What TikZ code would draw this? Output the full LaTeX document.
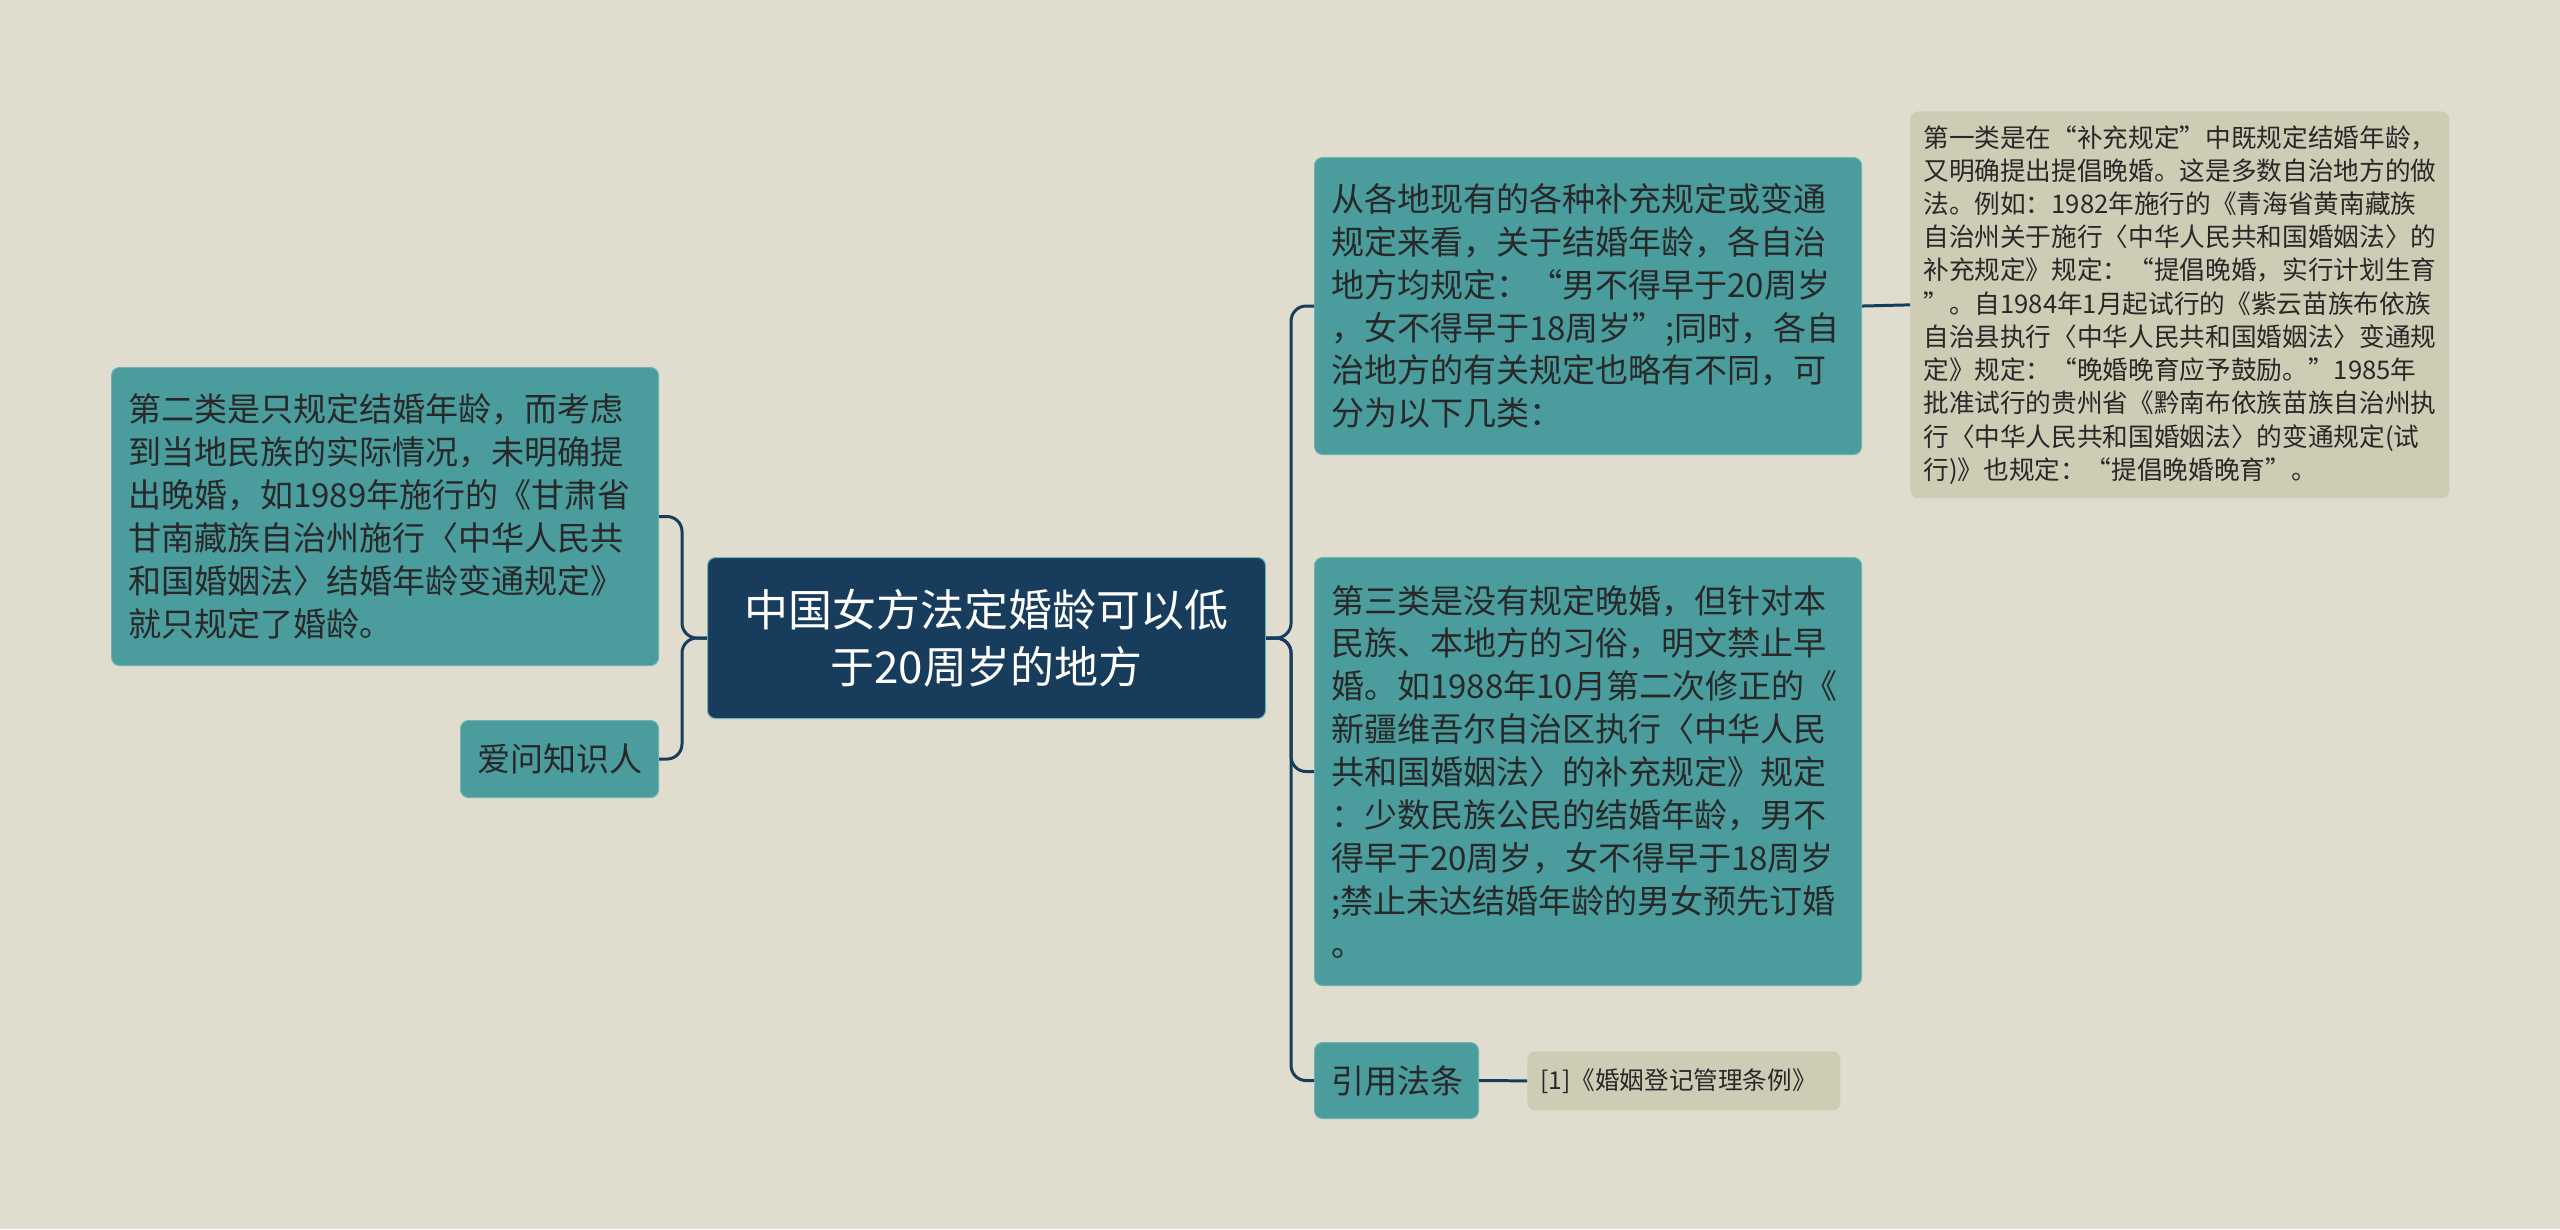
\documentclass[tikz,border=0pt]{standalone}
\usepackage{fontspec}
\setmainfont{Noto Sans CJK SC}

\definecolor{paper}{RGB}{224,221,207}
\definecolor{rootblue}{RGB}{23,60,92}
\definecolor{tealbox}{RGB}{75,156,157}
\definecolor{tealedge}{RGB}{110,178,178}
\definecolor{notebox}{RGB}{207,204,182}
\definecolor{ink}{RGB}{40,40,40}

\tikzset{
  rootbox/.style={fill=rootblue, draw=tealedge, line width=0.6pt, text=white,
    rounded corners=0.16cm, anchor=north west, align=center,
    inner xsep=0.3cm, inner ysep=0pt,
    font=\fontsize{25pt}{32.4pt}\selectfont},
  topic/.style={fill=tealbox, draw=tealedge, line width=0.6pt, text=ink,
    rounded corners=0.16cm, anchor=north west, align=left,
    inner xsep=0.33cm, inner ysep=0pt,
    font=\fontsize{18.8pt}{24.4pt}\selectfont},
  note/.style={fill=notebox, text=ink, rounded corners=0.16cm,
    anchor=north west, align=left, inner xsep=0.26cm, inner ysep=0pt,
    font=\fontsize{14.6pt}{18.9pt}\selectfont},
  link/.style={draw=rootblue, line width=1.7pt, rounded corners=0.3cm}
}

\begin{document}
\begin{tikzpicture}
    \fill[paper] (0,0) rectangle (51.2,-24.58);

    \path
    (14.14,-11.14) node[rootbox, text width=10.56cm, minimum height=3.22cm] (0)
      {中国女方法定婚龄可以低\\于20周岁的地方}
    (26.28,-3.14) node[topic, text width=10.28cm, minimum height=5.94cm] (1)
      {从各地现有的各种补充规定或变通\\
       规定来看，关于结婚年龄，各自治\\
       地方均规定：“男不得早于20周岁\\
       ，女不得早于18周岁”;同时，各自\\
       治地方的有关规定也略有不同，可\\
       分为以下几类：}
    (26.28,-11.14) node[topic, text width=10.28cm, minimum height=8.56cm] (2)
      {第三类是没有规定晚婚，但针对本\\
       民族、本地方的习俗，明文禁止早\\
       婚。如1988年10月第二次修正的《\\
       新疆维吾尔自治区执行〈中华人民\\
       共和国婚姻法〉的补充规定》规定\\
       ：少数民族公民的结婚年龄，男不\\
       得早于20周岁，女不得早于18周岁\\
       ;禁止未达结婚年龄的男女预先订婚\\
       。}
    (26.28,-20.84) node[topic, text width=2.62cm, minimum height=1.52cm] (3)
      {引用法条}
    (2.22,-7.34) node[topic, text width=10.28cm, minimum height=5.96cm] (4)
      {第二类是只规定结婚年龄，而考虑\\
       到当地民族的实际情况，未明确提\\
       出晚婚，如1989年施行的《甘肃省\\
       甘南藏族自治州施行〈中华人民共\\
       和国婚姻法〉结婚年龄变通规定》\\
       就只规定了婚龄。}
    (9.20,-14.40) node[topic, text width=3.30cm, minimum height=1.54cm] (5)
      {爱问知识人}
    (38.2,-2.22) node[note, text width=10.26cm, minimum height=7.74cm] (6)
      {第一类是在“补充规定”中既规定结婚年龄，\\
       又明确提出提倡晚婚。这是多数自治地方的做\\
       法。例如：1982年施行的《青海省黄南藏族\\
       自治州关于施行〈中华人民共和国婚姻法〉的\\
       补充规定》规定：“提倡晚婚，实行计划生育\\
       ”。自1984年1月起试行的《紫云苗族布依族\\
       自治县执行〈中华人民共和国婚姻法〉变通规\\
       定》规定：“晚婚晚育应予鼓励。”1985年\\
       批准试行的贵州省《黔南布依族苗族自治州执\\
       行〈中华人民共和国婚姻法〉的变通规定(试\\
       行)》也规定：“提倡晚婚晚育”。}
    (30.54,-21.02) node[note, text width=5.74cm, minimum height=1.18cm,
      font=\fontsize{14pt}{16pt}\selectfont] (7)
      {[1]《婚姻登记管理条例》};

    \draw[link] (0.east) -- ++(0.5,0) |- (1.west);
    \draw[link] (0.east) -- ++(0.5,0) |- (2.west);
    \draw[link] (0.east) -- ++(0.5,0) |- (3.west);
    \draw[link] (0.west) -- ++(-0.5,0) |- (4.east);
    \draw[link] (0.west) -- ++(-0.5,0) |- (5.east);
    \draw[link] (1.east) -- (6.west);
    \draw[link] (3.east) -- (7.west);

  \end{tikzpicture}
\end{document}
